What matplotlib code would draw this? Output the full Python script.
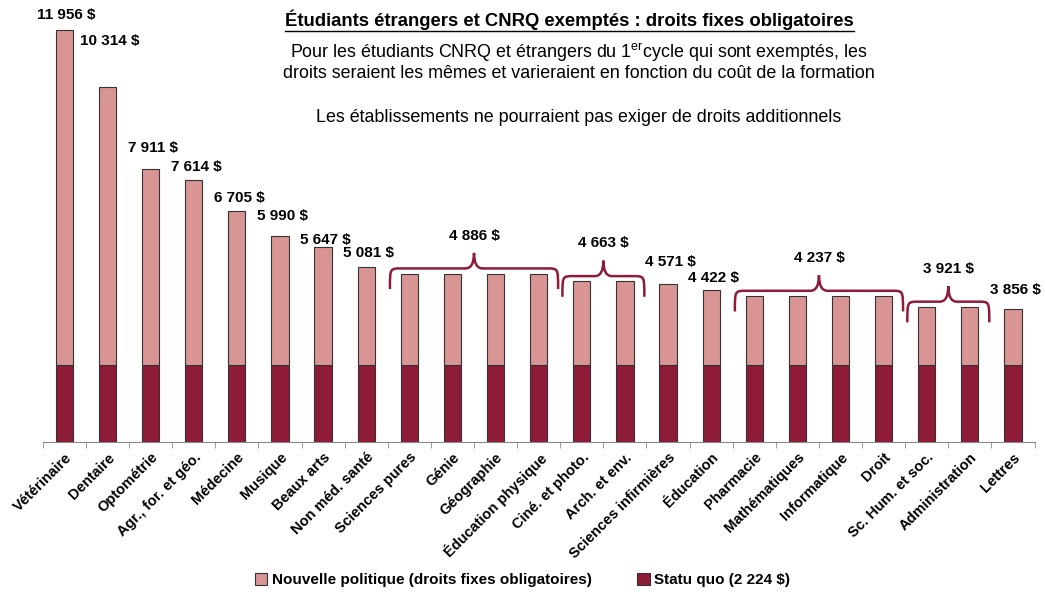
import matplotlib.pyplot as plt
from matplotlib.path import Path
from matplotlib.patches import PathPatch
from matplotlib.lines import Line2D
import numpy as np

categories = [
    "Vétérinaire", "Dentaire", "Optométrie", "Agr., for. et géo.", "Médecine",
    "Musique", "Beaux arts", "Non méd. santé", "Sciences pures", "Génie",
    "Géographie", "Éducation physique", "Ciné. et photo.", "Arch. et env.",
    "Sciences infirmières", "Éducation", "Pharmacie", "Mathématiques",
    "Informatique", "Droit", "Sc. Hum. et soc.", "Administration", "Lettres",
]
totals = [11956, 10314, 7911, 7614, 6705, 5990, 5647, 5081, 4886, 4886, 4886,
          4886, 4663, 4663, 4571, 4422, 4237, 4237, 4237, 4237, 3921, 3921, 3856]
statu_quo = 2224
# groups sharing the same fee: (first index, last index)
groups = [(8, 11), (12, 13), (16, 19), (20, 21)]

light = "#D99594"
dark = "#8E1B37"
edge = "#333333"

# label lift above the bar (points), as excel placed them
label_lift = {0: 6, 1: 28, 2: 10, 3: 4, 4: 4, 5: 9, 6: 0, 7: 5, 14: 11, 15: 3, 22: 9}

plt.rcParams.update({
    "font.family": ["Liberation Sans", "DejaVu Sans"],
    "mathtext.fontset": "custom",
    "mathtext.rm": "Liberation Sans",
})

fig = plt.figure(figsize=(10.45, 5.94), dpi=100)
ax = fig.add_axes([0.041, 0.256, 0.949, 0.744])

x = np.arange(len(categories))
base = np.full(len(categories), statu_quo)
top = np.array(totals) - statu_quo
ax.bar(x, base, width=0.4, color=dark, edgecolor=edge, linewidth=0.8,
       label="Statu quo (2 224 $)")
ax.bar(x, top, bottom=base, width=0.4, color=light, edgecolor=edge,
       linewidth=0.8, label="Nouvelle politique (droits fixes obligatoires)")

ax.set_xlim(-0.5, len(categories) - 0.5)
ax.set_ylim(0, 12827)


def fmt(v):
    return f"{v:,}".replace(",", " ") + " $"


grouped = set()
for g0, g1 in groups:
    grouped.update(range(g0, g1 + 1))
    v = totals[g0]
    xa, xb = g0 - 0.45, g1 + 0.45
    xm = (g0 + g1) / 2
    h = v + 150
    verts = [
        (xa, v - 450), (xa, h), (xa, h), (xa + 0.25, h),
        (xm - 0.2, h), (xm, h), (xm, v + 600),
        (xm, h), (xm + 0.2, h),
        (xb - 0.25, h), (xb, h), (xb, h), (xb, v - 450),
    ]
    codes = [Path.MOVETO, Path.CURVE4, Path.CURVE4, Path.CURVE4,
             Path.LINETO, Path.CURVE3, Path.CURVE3,
             Path.CURVE3, Path.CURVE3,
             Path.LINETO, Path.CURVE4, Path.CURVE4, Path.CURVE4]
    ax.add_patch(PathPatch(Path(verts, codes), facecolor="none",
                           edgecolor=dark, linewidth=1.8, clip_on=False))
    ax.text(xm, v + 1100, fmt(v), ha="center", va="center",
            fontsize=11, fontweight="bold")

for i, v in enumerate(totals):
    if i in grouped:
        continue
    ax.annotate(fmt(v), (i + 0.05, v), xytext=(0, label_lift.get(i, 10)),
                textcoords="offset points", ha="center", va="bottom",
                fontsize=11, fontweight="bold", annotation_clip=False)

for s in ["top", "right", "left"]:
    ax.spines[s].set_visible(False)
ax.spines["bottom"].set_color("#888888")
ax.set_yticks([])
ax.set_xticks(x)
ax.set_xticklabels(categories, rotation=45, ha="right", rotation_mode="anchor",
                   fontsize=10.5, fontweight="bold")
ax.tick_params(axis="x", which="major", length=0, pad=6)
ax.set_xticks(np.arange(len(categories) + 1) - 0.5, minor=True)
ax.tick_params(axis="x", which="minor", length=4, color="#888888")

fig.text(0.545, 0.966, "Étudiants étrangers et CNRQ exemptés : droits fixes obligatoires",
         ha="center", va="center", fontsize=13.3, fontweight="bold")
fig.text(0.554, 0.912,
         "Pour les étudiants CNRQ et étrangers du 1$^{\\mathrm{er}}$cycle qui sont exemptés, les",
         ha="center", va="center", fontsize=12.9)
fig.text(0.554, 0.877,
         "droits seraient les mêmes et varieraient en fonction du coût de la formation",
         ha="center", va="center", fontsize=12.9)
fig.text(0.554, 0.803, "Les établissements ne pourraient pas exiger de droits additionnels",
         ha="center", va="center", fontsize=12.9)
fig.add_artist(Line2D([0.273, 0.817], [0.947, 0.947], color="black", linewidth=1.0))

handles, labels = ax.get_legend_handles_labels()
fig.legend(handles[::-1], labels[::-1], loc="center", bbox_to_anchor=(0.5, 0.023),
           ncol=2, frameon=False, handlelength=0.8, handleheight=0.8,
           handletextpad=0.3, columnspacing=3.0,
           prop={"weight": "bold", "size": 11})

fig.savefig("out.png", dpi=100)
